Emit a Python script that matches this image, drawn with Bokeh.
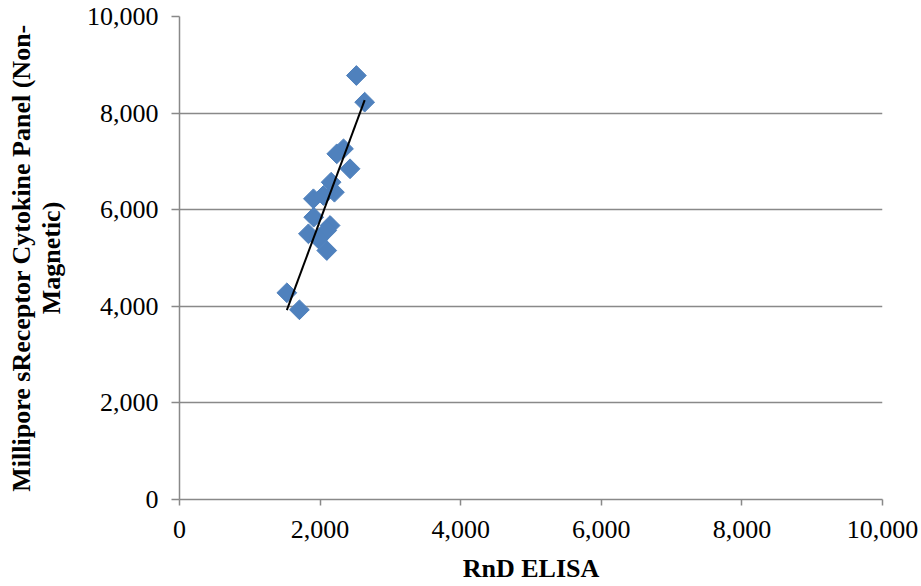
import numpy as np
from bokeh.plotting import figure
from bokeh.models import FixedTicker, NumeralTickFormatter, Range1d
from bokeh.embed import file_html
from bokeh.resources import INLINE

# Data
rnd_elisa = [2516, 2634, 2333, 2237, 2426, 2157, 2204, 1905, 2047, 1909,
             2142, 2095, 1834, 1976, 2095, 1527, 1706]
millipore = [8778, 8226, 7261, 7157, 6847, 6569, 6362, 6226, 6294, 5845,
             5673, 5570, 5501, 5397, 5155, 4280, 3928]
tick_values = [0, 2000, 4000, 6000, 8000, 10000]

x_title = "RnD ELISA"
y_title = "Millipore sReceptor Cytokine Panel (Non-\nMagnetic)"

FONT = "Liberation Serif"
GRAY = "#898989"

p = figure(width=921, height=586, output_backend="svg", toolbar_location=None,
           x_range=Range1d(0, 10000), y_range=Range1d(0, 10000),
           min_border_left=179, min_border_right=39, min_border_top=16,
           min_border_bottom=87)
p.outline_line_color = None
p.background_fill_color = "white"
p.border_fill_color = "white"

# Grid
p.xgrid.grid_line_color = None
p.ygrid.grid_line_color = GRAY
p.ygrid.grid_line_width = 1.5
p.ygrid.ticker = FixedTicker(ticks=tick_values)

for ax in (p.xaxis[0], p.yaxis[0]):
    ax.ticker = FixedTicker(ticks=tick_values)
    ax.formatter = NumeralTickFormatter(format="0,0")
    ax.axis_line_color = GRAY
    ax.axis_line_width = 1.5
    ax.major_tick_line_color = GRAY
    ax.major_tick_line_width = 1.5
    ax.major_tick_in = 0
    ax.minor_tick_line_color = None
    ax.major_label_text_font = FONT
    ax.major_label_text_font_size = "26px"
    ax.major_label_text_color = "black"
    ax.axis_label_text_font = FONT
    ax.axis_label_text_font_size = "26px"
    ax.axis_label_text_font_style = "bold"
    ax.axis_label_text_color = "black"

p.xaxis.major_tick_out = 6
p.yaxis.major_tick_out = 8
p.xaxis.major_label_standoff = 15
p.yaxis.major_label_standoff = 13
p.xaxis.axis_label = x_title
p.yaxis.axis_label = y_title
p.yaxis.axis_label_text_line_height = 1.05
p.xaxis.axis_label_standoff = 13
p.yaxis.axis_label_standoff = 18

# Points
p.scatter(rnd_elisa, millipore, marker="square", size=14, angle=np.pi / 4,
          fill_color="#4F81BD", line_color="#4F81BD", line_width=1)

# Linear trendline
xs = np.array(rnd_elisa, dtype=float)
ys = np.array(millipore, dtype=float)
m, b = np.polyfit(xs, ys, 1)
lx = np.array([xs.min(), xs.max()])
p.line(lx, m * lx + b, line_color="black", line_width=2)

open("out.html", "w").write(file_html(p, INLINE))
